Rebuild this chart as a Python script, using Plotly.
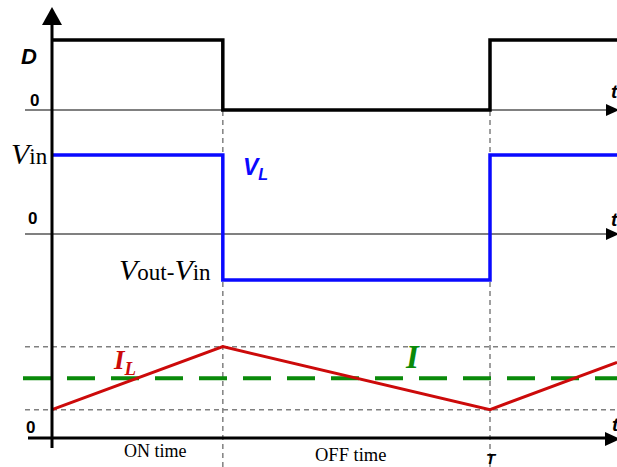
import plotly.graph_objects as go

# ---- waveform data (one switching period T = 1) ----
switch_times = [0.0, 0.39, 1.0, 1.29]     # turn-off at D*T, turn-on at T, end of view
duty = [1, 0, 1, 1]                       # switch drive D
v_L = [12, -7, 12, 12]                    # inductor voltage: Vin, Vout-Vin
i_times = [0.0, 0.39, 1.0, 1.29]
i_L = [0.9, 2.9, 0.9, 2.4]                # inductor current ripple
i_min, i_max, i_avg = 0.9, 2.9, 1.9

W, H = 617, 467


def fx(px):
    return px / W


def fy(py):
    return 1 - py / H


BLACK = "#000000"
GRAY = "#808080"
BLUE = "#0a0aff"
RED = "#cc0a0a"
GREEN = "#0a8a0a"

fig = go.Figure()

fig.add_trace(go.Scatter(x=switch_times, y=duty, mode="lines", line_shape="hv",
                         line=dict(color=BLACK, width=3.5), yaxis="y", hoverinfo="skip"))
fig.add_trace(go.Scatter(x=switch_times, y=v_L, mode="lines", line_shape="hv",
                         line=dict(color=BLUE, width=3.5), yaxis="y2", hoverinfo="skip"))
fig.add_trace(go.Scatter(x=i_times, y=i_L, mode="lines",
                         line=dict(color=RED, width=3), yaxis="y3", hoverinfo="skip"))

shapes = []
# switching instants
for t in (switch_times[1], switch_times[2]):
    shapes.append(dict(type="line", xref="x", yref="paper", x0=t, x1=t, y0=0, y1=fy(110),
                       line=dict(color=GRAY, width=1.5, dash="5px,4px"), layer="below"))
# zero lines of D and V_L
shapes.append(dict(type="line", xref="paper", yref="y", x0=fx(25), x1=fx(608), y0=0, y1=0,
                   line=dict(color=GRAY, width=2), layer="below"))
shapes.append(dict(type="line", xref="paper", yref="y2", x0=fx(25), x1=fx(608), y0=0, y1=0,
                   line=dict(color=GRAY, width=2), layer="below"))
# current ripple bounds
for lvl in (i_min, i_max):
    shapes.append(dict(type="line", xref="paper", yref="y3", x0=fx(25), x1=1, y0=lvl, y1=lvl,
                       line=dict(color=GRAY, width=1.5, dash="5px,4px"), layer="below"))
# average current
shapes.append(dict(type="line", xref="paper", yref="y3", x0=fx(23), x1=1, y0=i_avg, y1=i_avg,
                   line=dict(color=GREEN, width=4, dash="28px,16px"), layer="below"))
# main axes
shapes.append(dict(type="line", xref="x", yref="paper", x0=0, x1=0, y0=fy(448), y1=fy(20),
                   line=dict(color=BLACK, width=3)))
shapes.append(dict(type="line", xref="paper", yref="y3", x0=fx(28), x1=fx(608), y0=0, y1=0,
                   line=dict(color=BLACK, width=3)))


def tri(pts):
    d = "M " + " L ".join(f"{fx(a)},{fy(b)}" for a, b in pts) + " Z"
    return dict(type="path", xref="paper", yref="paper", path=d,
                fillcolor=BLACK, line=dict(color=BLACK, width=0))


shapes.append(tri([(52, 7), (42, 25), (62, 25)]))
shapes.append(tri([(619, 110), (606, 104), (606, 116)]))
shapes.append(tri([(619, 234), (606, 228), (606, 240)]))
shapes.append(tri([(620, 439), (605, 432), (605, 446)]))

SANS = "Arial, Liberation Sans, sans-serif"
SERIF = "Times New Roman, Liberation Serif, serif"


def label(text, x, y, size, color=BLACK, family=SANS, xanchor="center", yanchor="middle"):
    return dict(text=text, x=fx(x), y=fy(y), xref="paper", yref="paper", showarrow=False,
                xanchor=xanchor, yanchor=yanchor,
                font=dict(size=size, color=color, family=family))


annotations = [
    label("<b><i>D</i></b>", 29, 56, 22),
    label("<b>0</b>", 34, 100, 17),
    label("<b>0</b>", 32, 218, 17),
    label("<b>0</b>", 30, 427, 17),
    label("<b><i>t</i></b>", 614, 91, 19),
    label("<b><i>t</i></b>", 614, 219, 19),
    label("<b><i>t</i></b>", 615, 424, 19),
    label("<i>V</i><span style='font-size:23px'>in</span>", 9, 153, 30, family=SERIF,
          xanchor="left"),
    label("<b><i>V<sub>L</sub></i></b>", 241, 168, 23, color=BLUE, xanchor="left"),
    label("<i>V</i><span style='font-size:23px'>out-</span><i>V</i>"
          "<span style='font-size:23px'>in</span>", 213, 269, 30, family=SERIF,
          xanchor="right"),
    label("<b><i>I<sub>L</sub></i></b>", 111, 362, 27, color=RED, family=SERIF,
          xanchor="left"),
    label("<b><i>I</i></b>", 412, 357, 33, color=GREEN, family=SERIF),
    label("ON time", 155, 451, 18, family=SERIF),
    label("OFF time", 350, 455, 18.5, family=SERIF),
    label("<b><i>T</i></b>", 491, 458, 15),
]

fig.update_layout(
    width=W, height=H,
    margin=dict(l=0, r=0, t=0, b=0),
    paper_bgcolor="white", plot_bgcolor="white",
    showlegend=False,
    xaxis=dict(range=[-52 / 438, 565 / 438], visible=False, fixedrange=True),
    yaxis=dict(range=[(110 - 467) / 70, 110 / 70], visible=False, fixedrange=True),
    yaxis2=dict(range=[-233 / (79 / 12), 234 / (79 / 12)], visible=False,
                overlaying="y", fixedrange=True),
    yaxis3=dict(range=[-29 / 31.5, 438 / 31.5], visible=False,
                overlaying="y", fixedrange=True),
    shapes=shapes,
    annotations=annotations,
)

fig.write_html("out.html")
